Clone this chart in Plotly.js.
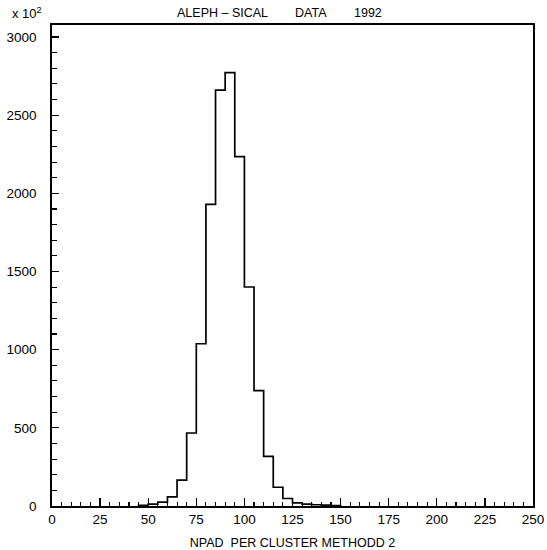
<!DOCTYPE html>
<html>
<head>
<meta charset="utf-8">
<script src="https://cdn.plot.ly/plotly-3.0.1.min.js"></script>
<style>html,body{margin:0;padding:0;background:#fff;}#chart{width:547px;height:550px;}</style>
</head>
<body>
<div id="chart"></div>
<script>
// Histogram: lower bin edges (NPAD) and counts (x 10^2)
var binLow = [45, 50, 55, 60, 65, 70, 75, 80, 85, 90, 95, 100, 105, 110, 115, 120, 125, 130, 135, 140, 145];
var counts = [4, 12, 25, 58, 166, 467, 1038, 1930, 2660, 2772, 2235, 1401, 738, 318, 120, 48, 20, 12, 8, 5, 3];
var binWidth = 5;
var titleParts = ["ALEPH \u2013 SICAL", "DATA", "1992"];
var xTitle = "NPAD&nbsp;&nbsp;PER CLUSTER METHODD 2";
var yScaleLabel = "x 10<sup>2</sup>";

// Build step outline from the bins
var xs = [binLow[0]];
var ys = [0];
for (var i = 0; i < binLow.length; i++) { xs.push(binLow[i]); ys.push(counts[i]); }
xs.push(binLow[binLow.length - 1] + binWidth); ys.push(0);

var font = {family: "Liberation Sans, Arial, Helvetica, sans-serif", color: "#000"};
function f(s) { return Object.assign({size: s}, font); }

var trace = {
  type: "scatter", mode: "lines", x: xs, y: ys,
  line: {shape: "hv", color: "#000", width: 1.7},
  hoverinfo: "skip", showlegend: false
};

var layout = {
  width: 547, height: 550,
  margin: {l: 52, r: 14, t: 25, b: 44, pad: 0},
  paper_bgcolor: "#fff", plot_bgcolor: "#fff",
  font: f(13),
  showlegend: false,
  xaxis: {
    range: [0, 250], dtick: 25, tick0: 0,
    ticks: "inside", ticklen: 8, tickwidth: 1.3, tickcolor: "#000",
    minor: {dtick: 5, ticks: "inside", ticklen: 4, tickwidth: 1.1, tickcolor: "#000"},
    showline: true, linecolor: "#000", linewidth: 1.7, mirror: true,
    showgrid: false, zeroline: false,
    tickfont: f(13.5),
    ticklabelstandoff: 0,
    title: {text: xTitle, font: f(12.5), standoff: 13}
  },
  yaxis: {
    range: [0, 3077], dtick: 500, tick0: 0,
    ticks: "inside", ticklen: 7, tickwidth: 1.3, tickcolor: "#000",
    minor: {dtick: 100, ticks: "inside", ticklen: 5, tickwidth: 1.1, tickcolor: "#000"},
    showline: true, linecolor: "#000", linewidth: 1.7, mirror: true,
    showgrid: false, zeroline: false,
    tickfont: f(13.5),
    ticklabelstandoff: 11
  },
  annotations: [
    {text: titleParts[0], xref: "paper", yref: "paper", x: 0.3545, y: 1.025, xanchor: "center", yanchor: "middle", showarrow: false, font: f(12.5)},
    {text: titleParts[1], xref: "paper", yref: "paper", x: 0.5395, y: 1.025, xanchor: "center", yanchor: "middle", showarrow: false, font: f(12.5)},
    {text: titleParts[2], xref: "paper", yref: "paper", x: 0.656, y: 1.025, xanchor: "center", yanchor: "middle", showarrow: false, font: f(12.5)},
    {text: yScaleLabel, xref: "paper", yref: "paper", x: -0.087, y: 1.025, xanchor: "left", yanchor: "middle", showarrow: false, font: f(13)}
  ]
};

Plotly.newPlot("chart", [trace], layout, {staticPlot: true, displayModeBar: false});
</script>
</body>
</html>
